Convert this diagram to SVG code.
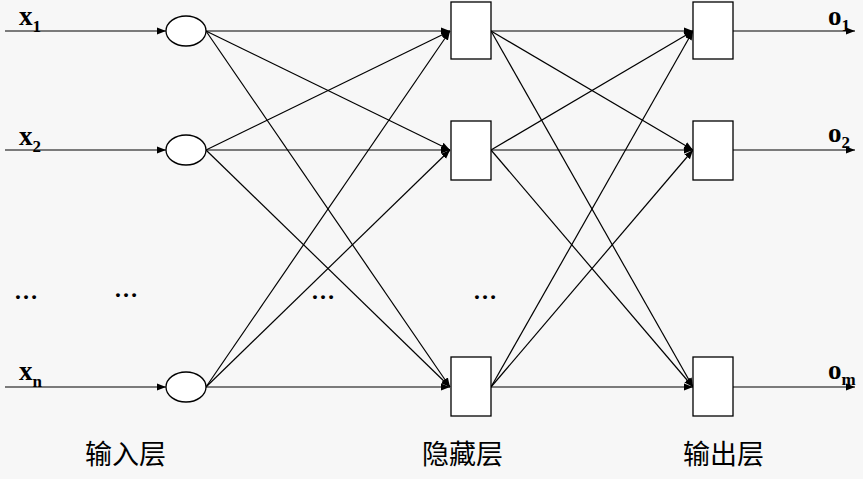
<svg xmlns="http://www.w3.org/2000/svg" width="863" height="479" viewBox="0 0 863 479">
<style>
.l{stroke:#000;stroke-width:1.2;fill:none}
.n{fill:#fff;stroke:#000;stroke-width:1.3}
.v{font-family:"Liberation Serif",serif;font-weight:bold;font-size:27px}
.s{font-size:17px}
.c{font-family:"Liberation Serif","Noto Sans CJK SC",serif;font-size:27px}
.d{font-family:"Liberation Serif",serif;font-size:24px;font-weight:bold}
</style>
<defs><marker id="a" viewBox="0 0 10 10" refX="10" refY="5" markerWidth="9" markerHeight="9" markerUnits="userSpaceOnUse" orient="auto"><path d="M0,1L10,5L0,9z"/></marker></defs>
<rect width="863" height="479" fill="#f7f7f7"/>
<g id="connectors" class="l" marker-end="url(#a)">
<line x1="5" y1="31" x2="166" y2="31"/><line x1="5" y1="150" x2="166" y2="150"/><line x1="5" y1="387" x2="166" y2="387"/>
<line x1="206" y1="31" x2="450" y2="31"/><line x1="206" y1="31" x2="450" y2="150"/><line x1="206" y1="31" x2="450" y2="387"/>
<line x1="206" y1="150" x2="450" y2="31"/><line x1="206" y1="150" x2="450" y2="150"/><line x1="206" y1="150" x2="450" y2="387"/>
<line x1="206" y1="387" x2="450" y2="31"/><line x1="206" y1="387" x2="450" y2="150"/><line x1="206" y1="387" x2="450" y2="387"/>
<line x1="491" y1="31" x2="693" y2="31"/><line x1="491" y1="31" x2="693" y2="150"/><line x1="491" y1="31" x2="693" y2="387"/>
<line x1="491" y1="150" x2="693" y2="31"/><line x1="491" y1="150" x2="693" y2="150"/><line x1="491" y1="150" x2="693" y2="387"/>
<line x1="491" y1="387" x2="693" y2="31"/><line x1="491" y1="387" x2="693" y2="150"/><line x1="491" y1="387" x2="693" y2="387"/>
<line x1="733" y1="31" x2="855" y2="31"/><line x1="733" y1="150" x2="855" y2="150"/><line x1="733" y1="387" x2="855" y2="387"/>
</g>
<g id="in1"><ellipse class="n" cx="186" cy="31" rx="20" ry="15"/></g>
<g id="in2"><ellipse class="n" cx="186" cy="150" rx="20" ry="15"/></g>
<g id="in3"><ellipse class="n" cx="186" cy="387" rx="20" ry="15"/></g>
<g id="h1"><rect class="n" x="451" y="2" width="40" height="57"/></g>
<g id="h2"><rect class="n" x="451" y="121" width="40" height="59"/></g>
<g id="h3"><rect class="n" x="451" y="357" width="40" height="59"/></g>
<g id="o1"><rect class="n" x="693" y="2" width="40" height="57"/></g>
<g id="o2"><rect class="n" x="693" y="121" width="40" height="59"/></g>
<g id="o3"><rect class="n" x="693" y="357" width="40" height="59"/></g>
<g id="labels">
<text class="v" x="19" y="25">x<tspan class="s" dy="7">1</tspan></text>
<text class="v" x="19" y="145">x<tspan class="s" dy="7">2</tspan></text>
<text class="v" x="19" y="380">x<tspan class="s" dy="7">n</tspan></text>
<text class="v" x="828" y="25">o<tspan class="s" dy="6">1</tspan></text>
<text class="v" x="828" y="142">o<tspan class="s" dy="6">2</tspan></text>
<text class="v" x="828" y="379">o<tspan class="s" dy="6">m</tspan></text>
<text class="d" x="14" y="299">…</text><text class="d" x="114" y="297">…</text>
<text class="d" x="311" y="299">…</text><text class="d" x="473" y="299">…</text>
<text class="c" x="85" y="464">输入层</text>
<text class="c" x="422" y="464">隐藏层</text>
<text class="c" x="683" y="464">输出层</text>
</g>
</svg>
